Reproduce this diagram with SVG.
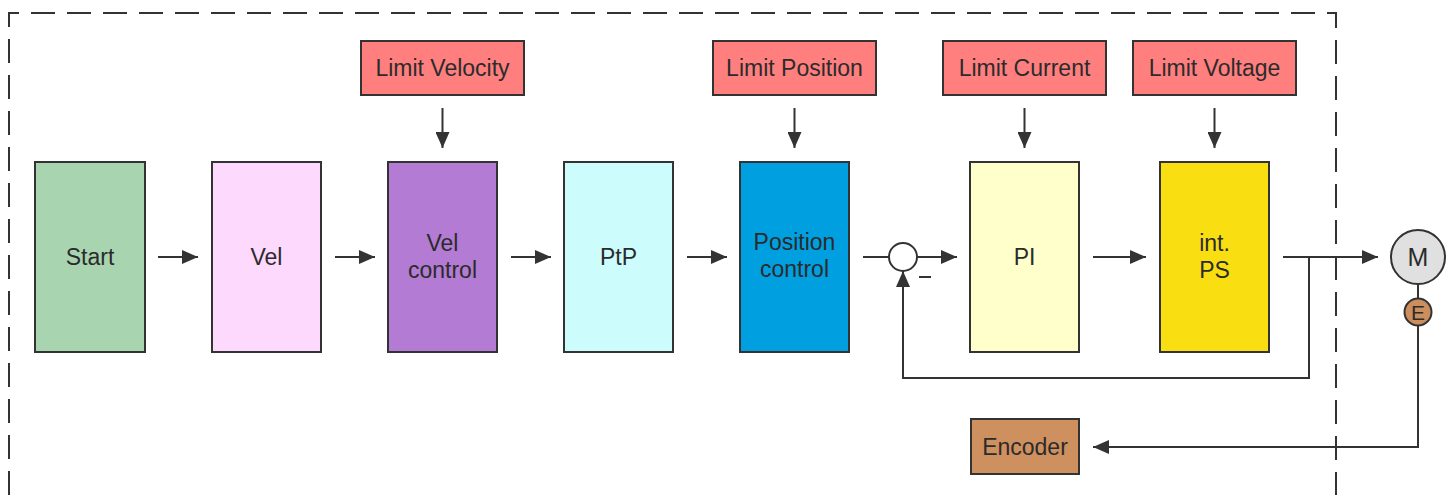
<svg xmlns="http://www.w3.org/2000/svg" width="1453" height="495" viewBox="0 0 1453 495">
<style>
.box{stroke:#333;stroke-width:2}
.t{font-family:"Liberation Sans",Arial,sans-serif;font-size:23px;fill:#2b2b2b;text-anchor:middle}
.ln{stroke:#333;stroke-width:2;fill:none}
</style>
<defs>
<marker id="ah" viewBox="0 0 16 14" refX="16" refY="7" markerWidth="16" markerHeight="14" markerUnits="userSpaceOnUse" orient="auto">
<path d="M0,0 L16,7 L0,14 Z" fill="#333"/>
</marker>
</defs>
<rect width="1453" height="495" fill="#fff"/>
<path d="M9,495 V13 H1336 V495" fill="none" stroke="#333" stroke-width="2" stroke-dasharray="24 12"/>

<g id="start"><rect class="box" x="35" y="162" width="110" height="190" fill="#a8d5b0"/><text class="t" x="90" y="265">Start</text></g>
<g id="vel"><rect class="box" x="212" y="162" width="109" height="190" fill="#fdd9fd"/><text class="t" x="266.5" y="265">Vel</text></g>
<g id="velctrl"><rect class="box" x="388" y="162" width="109" height="190" fill="#b37bd3"/><text class="t" x="442.5" y="251">Vel</text><text class="t" x="442.5" y="278">control</text></g>
<g id="ptp"><rect class="box" x="564" y="162" width="109" height="190" fill="#ccfcfc"/><text class="t" x="618.5" y="265">PtP</text></g>
<g id="posctrl"><rect class="box" x="740" y="162" width="109" height="190" fill="#009fe0"/><text class="t" x="794.5" y="250">Position</text><text class="t" x="794.5" y="277">control</text></g>
<g id="pi"><rect class="box" x="970" y="162" width="109" height="190" fill="#ffffcc"/><text class="t" x="1024.5" y="265">PI</text></g>
<g id="intps"><rect class="box" x="1160" y="162" width="109" height="190" fill="#f9df12"/><text class="t" x="1214.5" y="251">int.</text><text class="t" x="1214.5" y="278">PS</text></g>

<g id="limvel"><rect class="box" x="361" y="41" width="163" height="54" fill="#ff7f7f"/><text class="t" x="442.5" y="76">Limit Velocity</text></g>
<g id="limpos"><rect class="box" x="713" y="41" width="163" height="54" fill="#ff7f7f"/><text class="t" x="794.5" y="76">Limit Position</text></g>
<g id="limcur"><rect class="box" x="943" y="41" width="163" height="54" fill="#ff7f7f"/><text class="t" x="1024.5" y="76">Limit Current</text></g>
<g id="limvolt"><rect class="box" x="1133" y="41" width="163" height="54" fill="#ff7f7f"/><text class="t" x="1214.5" y="76">Limit Voltage</text></g>

<g id="sum"><circle cx="903" cy="257" r="14" fill="#fff" stroke="#333" stroke-width="2"/><line x1="919" y1="277" x2="931" y2="277" stroke="#333" stroke-width="2"/></g>
<g id="motor"><circle cx="1418" cy="257" r="27" fill="#e0e0e0" stroke="#333" stroke-width="2"/><text class="t" x="1418" y="266" style="font-size:25px">M</text></g>
<g id="enc"><circle cx="1418" cy="312" r="13.5" fill="#cd8e5e" stroke="#333" stroke-width="2"/><text class="t" x="1418" y="320" style="font-size:21px">E</text></g>
<g id="encoder"><rect class="box" x="971" y="419" width="108" height="55" fill="#cf9060"/><text class="t" x="1025" y="455">Encoder</text></g>

<g id="connectors">
<line class="ln" x1="158" y1="257" x2="198" y2="257" marker-end="url(#ah)"/>
<line class="ln" x1="335" y1="257" x2="375" y2="257" marker-end="url(#ah)"/>
<line class="ln" x1="511" y1="257" x2="551" y2="257" marker-end="url(#ah)"/>
<line class="ln" x1="687" y1="257" x2="727" y2="257" marker-end="url(#ah)"/>
<line class="ln" x1="863" y1="257" x2="889" y2="257"/>
<line class="ln" x1="917" y1="257" x2="957" y2="257" marker-end="url(#ah)"/>
<line class="ln" x1="1093" y1="257" x2="1146" y2="257" marker-end="url(#ah)"/>
<line class="ln" x1="1283" y1="257" x2="1378" y2="257" marker-end="url(#ah)"/>
<path class="ln" d="M1309,257 V378 H903 V271" marker-end="url(#ah)"/>
<line class="ln" x1="442.5" y1="108" x2="442.5" y2="148" marker-end="url(#ah)"/>
<line class="ln" x1="794.5" y1="108" x2="794.5" y2="148" marker-end="url(#ah)"/>
<line class="ln" x1="1024.5" y1="108" x2="1024.5" y2="148" marker-end="url(#ah)"/>
<line class="ln" x1="1214.5" y1="108" x2="1214.5" y2="148" marker-end="url(#ah)"/>
<line class="ln" x1="1418" y1="284" x2="1418" y2="298.5"/>
<path class="ln" d="M1418,325.5 V447 H1093" marker-end="url(#ah)"/>
</g>
</svg>
